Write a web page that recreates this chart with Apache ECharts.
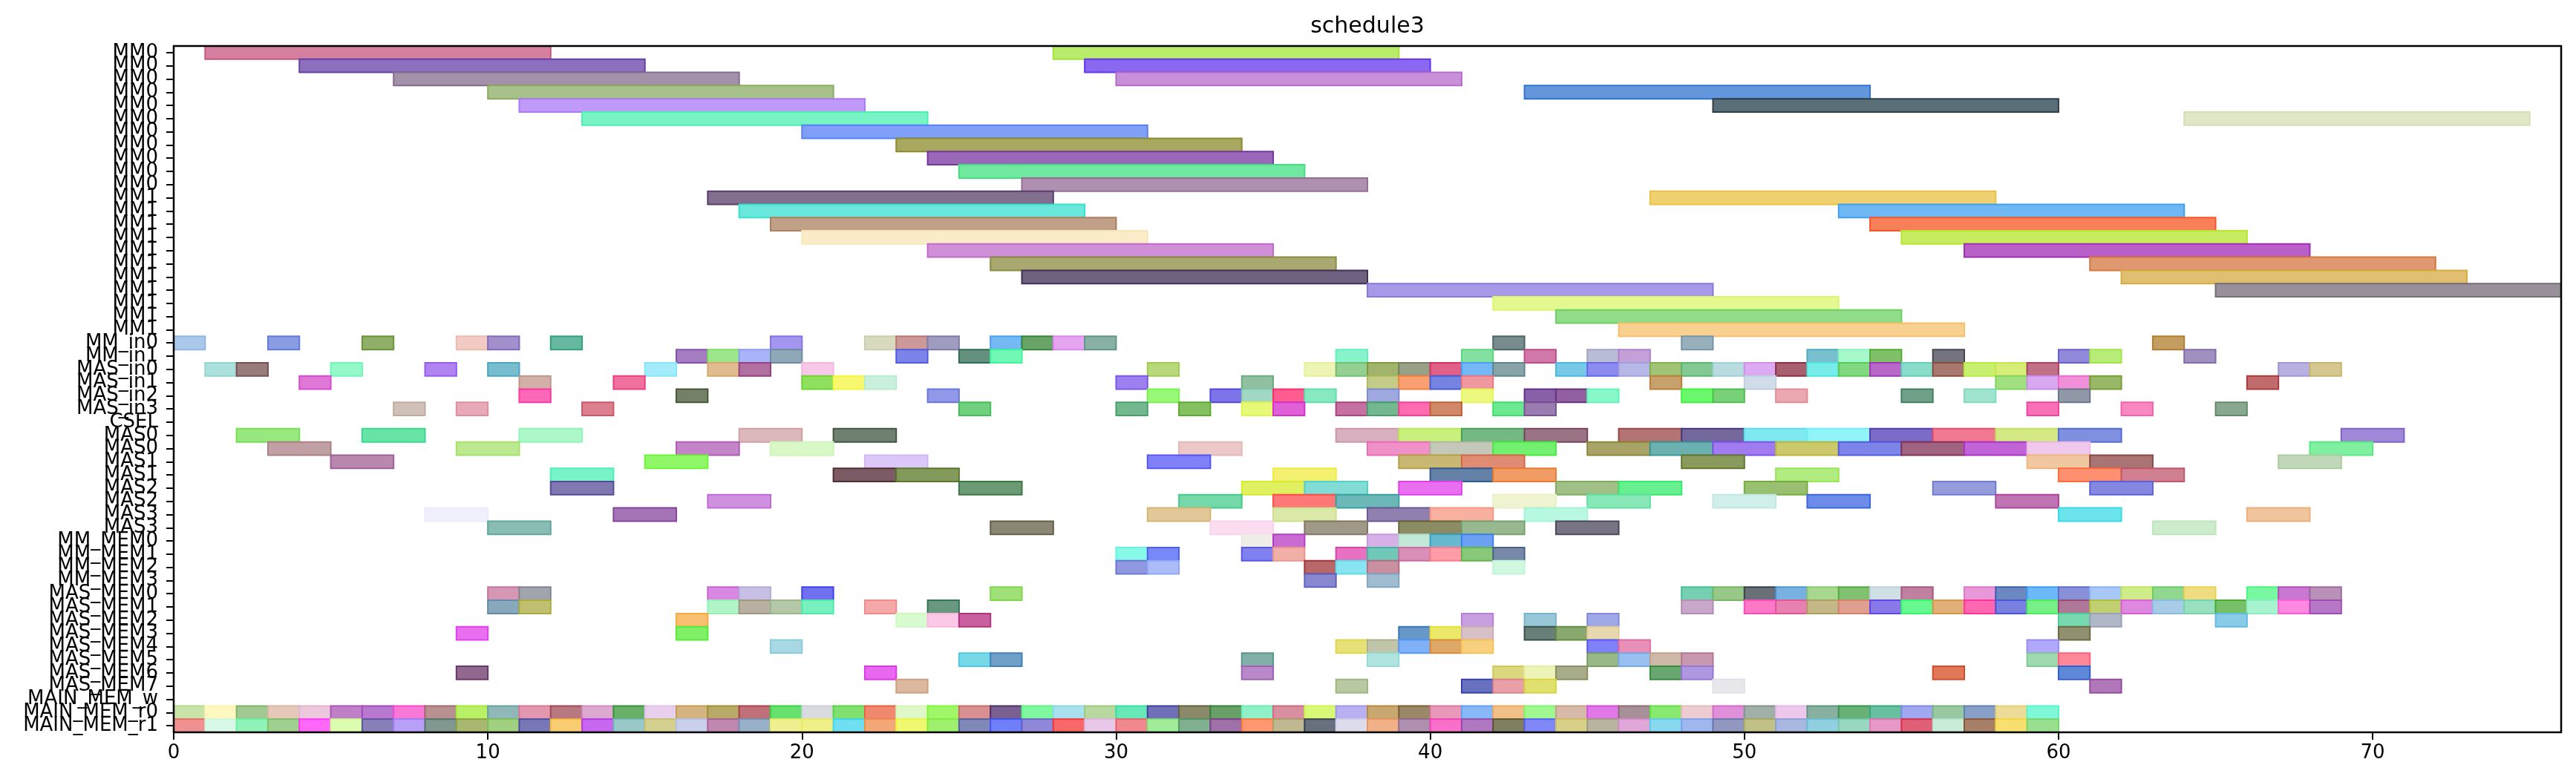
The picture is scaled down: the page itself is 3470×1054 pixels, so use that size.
<!DOCTYPE html>
<html>
<head>
<meta charset="utf-8">
<script src="https://cdn.jsdelivr.net/npm/echarts@6/dist/echarts.min.js"></script>
<style>html,body{margin:0;padding:0;background:#fff;}#chart{width:3470px;height:1054px;}</style>
</head>
<body>
<div id="chart"></div>
<script>
const categories = [
  'MM0','MM0','MM0','MM0','MM0','MM0','MM0','MM0','MM0','MM0','MM0',
  'MM1','MM1','MM1','MM1','MM1','MM1','MM1','MM1','MM1','MM1','MM1',
  'MM_in0','MM_in1','MAS_in0','MAS_in1','MAS_in2','MAS_in3','CSEL',
  'MAS0','MAS0','MAS1','MAS1','MAS2','MAS2','MAS3','MAS3',
  'MM_MEM0','MM_MEM1','MM_MEM2','MM_MEM3',
  'MAS_MEM0','MAS_MEM1','MAS_MEM2','MAS_MEM3','MAS_MEM4','MAS_MEM5','MAS_MEM6','MAS_MEM7',
  'MAIN_MEM_w','MAIN_MEM_r0','MAIN_MEM_r1'
];
const xTicks = [0, 10, 20, 30, 40, 50, 60, 70];

// [rowIndex, start, end]
const mmBars = [
  [0,1,12],[0,28,39],
  [1,4,15],[1,29,40],
  [2,7,18],[2,30,41],
  [3,10,21],[3,43,54],
  [4,11,22],[4,49,60],
  [5,13,24],[5,64,75],
  [6,20,31],
  [7,23,34],
  [8,24,35],
  [9,25,36],
  [10,27,38],
  [11,17,28],[11,47,58],
  [12,18,29],[12,53,64],
  [13,19,30],[13,54,65],
  [14,20,31],[14,55,66],
  [15,24,35],[15,57,68],
  [16,26,37],[16,61,72],
  [17,27,38],[17,62,73],
  [18,38,49],[18,65,76],
  [19,42,53],
  [20,44,55],
  [21,46,57]
];
const mmColors = [
  '#d580a0','#b8ec6a',
  '#8c70be','#8a68f0',
  '#a391aa','#c890d8',
  '#a8c08a','#6496dc',
  '#c09af8','#5a6e78',
  '#78f4c4','#e0e6c8',
  '#80a0f8',
  '#a8a860',
  '#9a68b8',
  '#70e8a0',
  '#b090b0',
  '#826e8e','#f0d070',
  '#6ae8dc','#70b8f4',
  '#c0a088','#f88058',
  '#faecc8','#c8ec60',
  '#d090d8','#b860c8',
  '#a8a870','#e09870',
  '#706080','#e0c070',
  '#a898e8','#989098',
  '#e4f890',
  '#90dc88',
  '#f8d090'
];

const portBars = [
  [22,0,1],[22,3,4],[22,6,7],[22,9,10],[22,10,11],[22,12,13],[22,19,20],[22,22,23],[22,23,24],[22,24,25],[22,26,27],[22,27,28],[22,28,29],[22,29,30],[22,42,43],[22,48,49],[22,63,64],
  [23,16,17],[23,17,18],[23,18,19],[23,19,20],[23,23,24],[23,25,26],[23,26,27],[23,37,38],[23,41,42],[23,43,44],[23,45,46],[23,46,47],[23,52,53],[23,53,54],[23,54,55],[23,56,57],[23,60,61],[23,61,62],[23,64,65],
  [24,1,2],[24,2,3],[24,5,6],[24,8,9],[24,10,11],[24,15,16],[24,17,18],[24,18,19],[24,20,21],[24,31,32],[24,36,37],[24,37,38],[24,38,39],[24,39,40],[24,40,41],[24,41,42],[24,42,43],[24,44,45],[24,45,46],[24,46,47],[24,47,48],[24,48,49],[24,49,50],[24,50,51],[24,51,52],[24,52,53],[24,53,54],[24,54,55],[24,55,56],[24,56,57],[24,57,58],[24,58,59],[24,59,60],[24,67,68],[24,68,69],
  [25,4,5],[25,11,12],[25,14,15],[25,20,21],[25,21,22],[25,22,23],[25,30,31],[25,34,35],[25,38,39],[25,39,40],[25,40,41],[25,41,42],[25,47,48],[25,50,51],[25,58,59],[25,59,60],[25,60,61],[25,61,62],[25,66,67],
  [26,11,12],[26,16,17],[26,24,25],[26,31,32],[26,33,34],[26,34,35],[26,35,36],[26,36,37],[26,38,39],[26,41,42],[26,43,44],[26,44,45],[26,45,46],[26,48,49],[26,49,50],[26,51,52],[26,55,56],[26,57,58],[26,60,61],
  [27,7,8],[27,9,10],[27,13,14],[27,25,26],[27,30,31],[27,32,33],[27,34,35],[27,35,36],[27,37,38],[27,38,39],[27,39,40],[27,40,41],[27,42,43],[27,43,44],[27,59,60],[27,62,63],[27,65,66]
];
const portColors = [
  '#aac8ea','#8a9ce2','#8fae68','#f2ccc4','#a190cc','#66b8a0','#a396ee','#d8dac0','#cc9898','#a09cc0','#74b8f4','#68a468','#e4a4f0','#88b0a4','#788c8e','#98b0bc','#c49e60',
  '#a47cc0','#9ee68c','#aab4f8','#90a8b8','#7c84e8','#64907e','#70f8b4','#88f4cc','#84e0a0','#d078a8','#b8bcd4','#c4a0d8','#78c0d0','#a4f8cc','#80c068','#74747e','#9088d8','#b8ec78','#a090c0',
  '#ace0dc','#987c7c','#94f8c8','#b084f0','#78bcd0','#a4ecfc','#e0bc90','#b070a0','#f8c8e8','#b8d87c','#eef4b4','#94d094','#a0b46c','#98a088','#e06088','#74b8f8','#88a4a8','#78c8e8','#8c8cf0','#b8b8e8','#a0c474','#84c894','#b8dce0','#dcaaf0','#a86070','#78ece8','#80d880','#b868c8','#88dcc8','#a87870','#c8f070','#d8ec78','#c07088','#b8b0e0','#d4c890',
  '#e078d8','#d0b0a8','#f070a0','#90e060','#f8f870','#c8f0dc','#9c80f0','#90c0a0','#c4cc88','#f8a070','#7484e0','#f098a0','#c8a06c','#d0dce8','#a0e080','#d8a8f0','#f090d8','#98b868','#c06c6c',
  '#ff68b8','#748068','#9098e8','#98f878','#7c74e8','#a0d8c4','#ff5c90','#88e8c0','#a0a8e0','#ecf880','#8860a8','#9060a0','#88f8c8','#6cf86c','#78d078','#eca8b0','#70a088','#a0e4d0','#9098a8',
  '#d0c0b8','#e8aab8','#dc8090','#70d080','#74b890','#84c060','#e8f878','#e060d8','#c470a0','#74b890','#ff6cb0','#d08868','#6ce890','#9a7cb0','#f870b8','#f888c0','#88a890'
];

const masBars = [
  [29,2,4],[29,6,8],[29,11,13],[29,18,20],[29,21,23],[29,37,39],[29,39,41],[29,41,43],[29,43,45],[29,46,48],[29,48,50],[29,50,52],[29,52,54],[29,54,56],[29,56,58],[29,58,60],[29,60,62],[29,69,71],
  [30,3,5],[30,9,11],[30,16,18],[30,19,21],[30,32,34],[30,38,40],[30,40,42],[30,42,44],[30,45,47],[30,47,49],[30,49,51],[30,51,53],[30,53,55],[30,55,57],[30,57,59],[30,59,61],[30,68,70],
  [31,5,7],[31,15,17],[31,22,24],[31,31,33],[31,39,41],[31,41,43],[31,48,50],[31,59,61],[31,61,63],[31,67,69],
  [32,12,14],[32,21,23],[32,23,25],[32,35,37],[32,40,42],[32,42,44],[32,51,53],[32,60,62],[32,62,64],
  [33,12,14],[33,25,27],[33,34,36],[33,36,38],[33,39,41],[33,44,46],[33,46,48],[33,50,52],[33,56,58],[33,61,63],
  [34,17,19],[34,32,34],[34,35,37],[34,37,39],[34,42,44],[34,45,47],[34,49,51],[34,52,54],[34,58,60],
  [35,8,10],[35,14,16],[35,31,33],[35,35,37],[35,38,40],[35,40,42],[35,43,45],[35,60,62],[35,66,68],
  [36,10,12],[36,26,28],[36,33,35],[36,36,38],[36,39,41],[36,41,43],[36,44,46],[36,63,65]
];
const masColors = [
  '#98e880','#68e4a8','#acf8c8','#dcb8bc','#708070','#d8b0c0','#c8f07c','#74b884','#9a7484','#b47474','#74689c','#80e8f0','#90f4f8','#7c6cc8','#f07890','#d4e884','#8090e0','#a088d8',
  '#c0a0a4','#bce890','#c484c8','#d8f8c8','#ecc8c8','#f090c8','#c4c8b8','#74f070','#a8a468','#6cb0b0','#a07cf0','#ccc86c','#7c84e8','#a06480','#c064d8','#f0c8ec','#80f0a0',
  '#b888b0','#90f868','#dcc8f8','#8080f8','#c8b874','#e08c74','#8a9a5c','#f0c8a0','#a87474','#c0d8b8',
  '#78f4c8','#7c5c64','#849a5c','#f4f070','#6482a8','#f09c64','#b0ec80','#ff9070','#d08090',
  '#8078b0','#6c9a74','#e0f060','#80dcd4','#e870f0','#a0c088','#68f090','#98c070','#949cdc','#8488e0',
  '#d090e0','#74d8a8','#ff7878','#6cb8b8','#f0f4d0','#88e8b8','#d0eeea','#6c8ce8','#c074b4',
  '#f0f0fc','#a474b4','#e0c898','#dae8a8','#9080b0','#f8b0a0','#b8f8e0','#6ce4ec','#f0c49c',
  '#88bcb4','#8a8874','#fcdcf0','#a09888','#8c8c64','#98b890','#787484','#cceccc'
];

const memBars = [
  [37,34,35],[37,35,36],[37,38,39],[37,39,40],[37,40,41],[37,41,42],
  [38,30,31],[38,31,32],[38,34,35],[38,35,36],[38,37,38],[38,38,39],[38,39,40],[38,40,41],[38,41,42],[38,42,43],
  [39,30,31],[39,31,32],[39,36,37],[39,37,38],[39,38,39],[39,42,43],
  [40,36,37],[40,38,39],
  [41,10,11],[41,11,12],[41,17,18],[41,18,19],[41,20,21],[41,26,27],[41,48,49],[41,49,50],[41,50,51],[41,51,52],[41,52,53],[41,53,54],[41,54,55],[41,55,56],[41,57,58],[41,58,59],[41,59,60],[41,60,61],[41,61,62],[41,62,63],[41,63,64],[41,64,65],[41,66,67],[41,67,68],[41,68,69],
  [42,10,11],[42,11,12],[42,17,18],[42,18,19],[42,19,20],[42,20,21],[42,22,23],[42,24,25],[42,48,49],[42,50,51],[42,51,52],[42,52,53],[42,53,54],[42,54,55],[42,55,56],[42,56,57],[42,57,58],[42,58,59],[42,59,60],[42,60,61],[42,61,62],[42,62,63],[42,63,64],[42,64,65],[42,65,66],[42,66,67],[42,67,68],[42,68,69],
  [43,16,17],[43,23,24],[43,24,25],[43,25,26],[43,41,42],[43,43,44],[43,45,46],[43,60,61],[43,61,62],[43,65,66],
  [44,9,10],[44,16,17],[44,39,40],[44,40,41],[44,41,42],[44,43,44],[44,44,45],[44,45,46],[44,60,61],
  [45,19,20],[45,37,38],[45,38,39],[45,39,40],[45,40,41],[45,41,42],[45,45,46],[45,46,47],[45,59,60],
  [46,25,26],[46,26,27],[46,34,35],[46,38,39],[46,45,46],[46,46,47],[46,47,48],[46,48,49],[46,59,60],[46,60,61],
  [47,9,10],[47,22,23],[47,34,35],[47,42,43],[47,43,44],[47,44,45],[47,47,48],[47,48,49],[47,56,57],[47,60,61],
  [48,23,24],[48,37,38],[48,41,42],[48,42,43],[48,43,44],[48,49,50],[48,61,62]
];
const memColors = [
  '#f0ece8','#c86cd4','#d8b0e8','#c4e8d8','#68b8d0','#6ca0f0',
  '#88f8e8','#7888f8','#8080f0','#f0b0a8','#e870c0','#70c8b8','#d890b8','#ff9ca8','#88c878','#7888a8',
  '#9098e0','#acbcf8','#b86868','#88e4f0','#c890a0','#d0f8e0',
  '#8888d0','#a0bcd0',
  '#d498b4','#a0a4ac','#d888e0','#c8c0e4','#7070f0','#a0e078','#74d0b0','#98c888','#6a7078','#78b0e0','#a8d890','#80c070','#d0dfe4','#c080a0','#e898d8','#6c88c0','#6cb8f8','#8890d8','#a8c8f8','#d0ec88','#90d890','#f0dc80','#78f8a0','#c878d0','#b890b8',
  '#8aa8bc','#c0c070','#b0f4c8','#b8b0a0','#b4c8a8','#78f0c0','#f4a8a8','#689880','#c8a8c8','#ff78c8','#e880b0','#c4b888','#e0a090','#8878e8','#68f890','#e0b078','#ff68b0','#7880e0','#78f088','#b07898','#c0d070','#e088e0','#a8cce8','#98e0c0','#78c068','#a8f4d0','#ff88e0','#b878c8',
  '#f8c070','#d8fcd0','#fcc8e8','#c860a0','#c8a0e0','#98c8d8','#a0a8e8','#78d8b0','#b0b8c8','#88cce8',
  '#e870f0','#80f068','#6898c8','#ece868','#d8c0c8','#687e78','#88a870','#e8d8b0','#909070',
  '#a8d8e4','#e8e078','#c0c4a8','#80b0f8','#e0a868','#f8d080','#8080f8','#e890b8','#b0a8f8',
  '#78d8e8','#70a0c8','#80b0a8','#b0e4e0','#98b888','#98c0f0','#d0b8a8','#c898b0','#a0d8b0','#ff8898',
  '#906890','#e868f0','#b888c8','#dcd880','#eef4b8','#a8ac88','#68a870','#b098e0','#e07858','#6088d8',
  '#dcb8a0','#b8c8a0','#6870c0','#e8a0a8','#e0e070','#e8e8ec','#b078b8'
];

const mainBars = [
  [50,0,1],[50,1,2],[50,2,3],[50,3,4],[50,4,5],[50,5,6],[50,6,7],[50,7,8],[50,8,9],[50,9,10],
  [50,10,11],[50,11,12],[50,12,13],[50,13,14],[50,14,15],[50,15,16],[50,16,17],[50,17,18],[50,18,19],[50,19,20],
  [50,20,21],[50,21,22],[50,22,23],[50,23,24],[50,24,25],[50,25,26],[50,26,27],[50,27,28],[50,28,29],[50,29,30],
  [50,30,31],[50,31,32],[50,32,33],[50,33,34],[50,34,35],[50,35,36],[50,36,37],[50,37,38],[50,38,39],[50,39,40],
  [50,40,41],[50,41,42],[50,42,43],[50,43,44],[50,44,45],[50,45,46],[50,46,47],[50,47,48],[50,48,49],[50,49,50],
  [50,50,51],[50,51,52],[50,52,53],[50,53,54],[50,54,55],[50,55,56],[50,56,57],[50,57,58],[50,58,59],[50,59,60],
  [51,0,1],[51,1,2],[51,2,3],[51,3,4],[51,4,5],[51,5,6],[51,6,7],[51,7,8],[51,8,9],[51,9,10],
  [51,10,11],[51,11,12],[51,12,13],[51,13,14],[51,14,15],[51,15,16],[51,16,17],[51,17,18],[51,18,19],[51,19,20],
  [51,20,21],[51,21,22],[51,22,23],[51,23,24],[51,24,25],[51,25,26],[51,26,27],[51,27,28],[51,28,29],[51,29,30],
  [51,30,31],[51,31,32],[51,32,33],[51,33,34],[51,34,35],[51,35,36],[51,36,37],[51,37,38],[51,38,39],[51,39,40],
  [51,40,41],[51,41,42],[51,42,43],[51,43,44],[51,44,45],[51,45,46],[51,46,47],[51,47,48],[51,48,49],[51,49,50],
  [51,50,51],[51,51,52],[51,52,53],[51,53,54],[51,54,55],[51,55,56],[51,56,57],[51,57,58],[51,58,59],[51,59,60]
];
const mainColors = [
  '#c8e4a8','#fff8c0','#a0c890','#e4c8b8','#ecc8dc','#c080c8','#b878d0','#f878d8','#b89090','#b8f068',
  '#90b8b8','#e498b0','#b87880','#dcaad0','#68b068','#e8d0ec','#d4b480','#b8aa68','#c07078','#68e070',
  '#d8dce0','#80e070','#f08870','#e0f8c8','#a0f868','#d89090','#7a6090','#80f8a0','#a8e0f0','#b8d8a0',
  '#68e8b8','#7070b8','#8a8a6a','#68a068','#90f0c8','#d890a0','#d8f878','#b8b0f0','#c8a870','#9a8868',
  '#e898b8','#88b8f8','#f0c088','#a0f890','#d8b8a8','#e078e8','#a89098','#88e870','#ecccd0','#e090d8',
  '#a0b0a8','#ecc8ec','#88b0a0','#68b078','#68c0a0','#a0a8f0','#98c8a0','#88a0c8','#ecdc98','#80f8d8',
  '#f09090','#d8f8e8','#90f4b8','#a0d090','#ff68f8','#dcfcb0','#8880b8','#b8a0f8','#809890','#a8b870',
  '#a0d080','#7878b8','#f8cc70','#c868f0','#98c8c8','#d4d090','#c8d0ec','#c088b0','#98b0c8','#f0f090',
  '#f0f088','#70e0f0','#f4a878','#f0f870','#a0f070','#8088b8','#7080f8','#9088d8','#f86868','#e8c8e8',
  '#f08890','#a0ec98','#80b090','#a070a8','#ff9870','#c0b890','#687080','#dcdcec','#f0b088','#b090b0',
  '#f870c8','#b078c0','#808060','#8088f8','#d8d088','#b8b4a0','#e0a8d8','#88d8f0','#a0b8f0','#9098c0',
  '#c0c088','#a8b8e0','#90d0e0','#98d8c0','#e898c8','#e06078','#c8ecd8','#a88068','#f8e070','#98e090'
];

function edgeOf(hex) {
  const v = [1, 3, 5].map(i => parseInt(hex.substr(i, 2), 16));
  const a = 0.6;
  const e = v.map(c => {
    const orig = Math.max(0, Math.min(255, (c - 255 * (1 - a)) / a));
    return Math.round(0.5 * orig + 0.5 * c);
  });
  return 'rgb(' + e.join(',') + ')';
}

const groups = [[mmBars, mmColors], [portBars, portColors], [masBars, masColors], [memBars, memColors], [mainBars, mainColors]];
const seriesData = [];
groups.forEach(([bars, cols]) => {
  bars.forEach((b, i) => {
    seriesData.push({ value: b, itemStyle: { color: cols[i] || '#999999' } });
  });
});

function renderItem(params, api) {
  const r = api.value(0), s = api.value(1), e = api.value(2);
  const p0 = api.coord([s, r]);
  const p1 = api.coord([e, r]);
  const h = api.size([0, 1])[1];
  const fill = api.visual('color');
  const shape = echarts.graphic.clipRectByRect(
    { x: p0[0], y: p0[1] - h / 2, width: p1[0] - p0[0], height: h },
    { x: params.coordSys.x, y: params.coordSys.y, width: params.coordSys.width, height: params.coordSys.height }
  );
  if (!shape) return;
  return {
    type: 'rect',
    shape: shape,
    style: { fill: fill, stroke: edgeOf(fill), lineWidth: 2 }
  };
}

const GRID = { left: 234, right: 20, top: 62, bottom: 67 };
const chart = echarts.init(document.getElementById('chart'), null, { renderer: 'canvas' });
const font = 'DejaVu Sans';
chart.setOption({
  animation: false,
  backgroundColor: '#ffffff',
  graphic: [{
    type: 'text',
    x: 1842, y: 36,
    style: { text: 'schedule3', fill: '#000', font: '30px "DejaVu Sans"', align: 'center', verticalAlign: 'middle' }
  }, {
    type: 'rect',
    z: 100,
    silent: true,
    shape: { x: GRID.left, y: GRID.top, width: 3470 - GRID.left - GRID.right, height: 1054 - GRID.top - GRID.bottom },
    style: { fill: 'none', stroke: '#000', lineWidth: 2.5 }
  }],
  grid: { left: GRID.left, right: GRID.right, top: GRID.top, bottom: GRID.bottom, show: false },
  xAxis: {
    type: 'value', min: 0, max: 76, interval: 10,
    axisLine: { show: true, lineStyle: { color: '#000', width: 2 } },
    axisTick: { show: true, length: 10, lineStyle: { color: '#000', width: 2 } },
    axisLabel: {
      fontFamily: font, fontSize: 26, color: '#000', margin: 15, showMaxLabel: false,
      formatter: v => (xTicks.indexOf(v) >= 0 ? String(v) : '')
    },
    splitLine: { show: false }
  },
  yAxis: {
    type: 'category', inverse: true, data: categories,
    axisLine: { show: true, lineStyle: { color: '#000', width: 2 } },
    axisTick: { show: true, alignWithLabel: true, interval: 0, length: 10, lineStyle: { color: '#000', width: 2 } },
    axisLabel: { interval: 0, fontFamily: font, fontSize: 26, color: '#000', margin: 21 },
    splitLine: { show: false }
  },
  series: [{
    type: 'custom',
    renderItem: renderItem,
    encode: { x: [1, 2], y: 0 },
    data: seriesData
  }]
});
</script>
</body>
</html>
